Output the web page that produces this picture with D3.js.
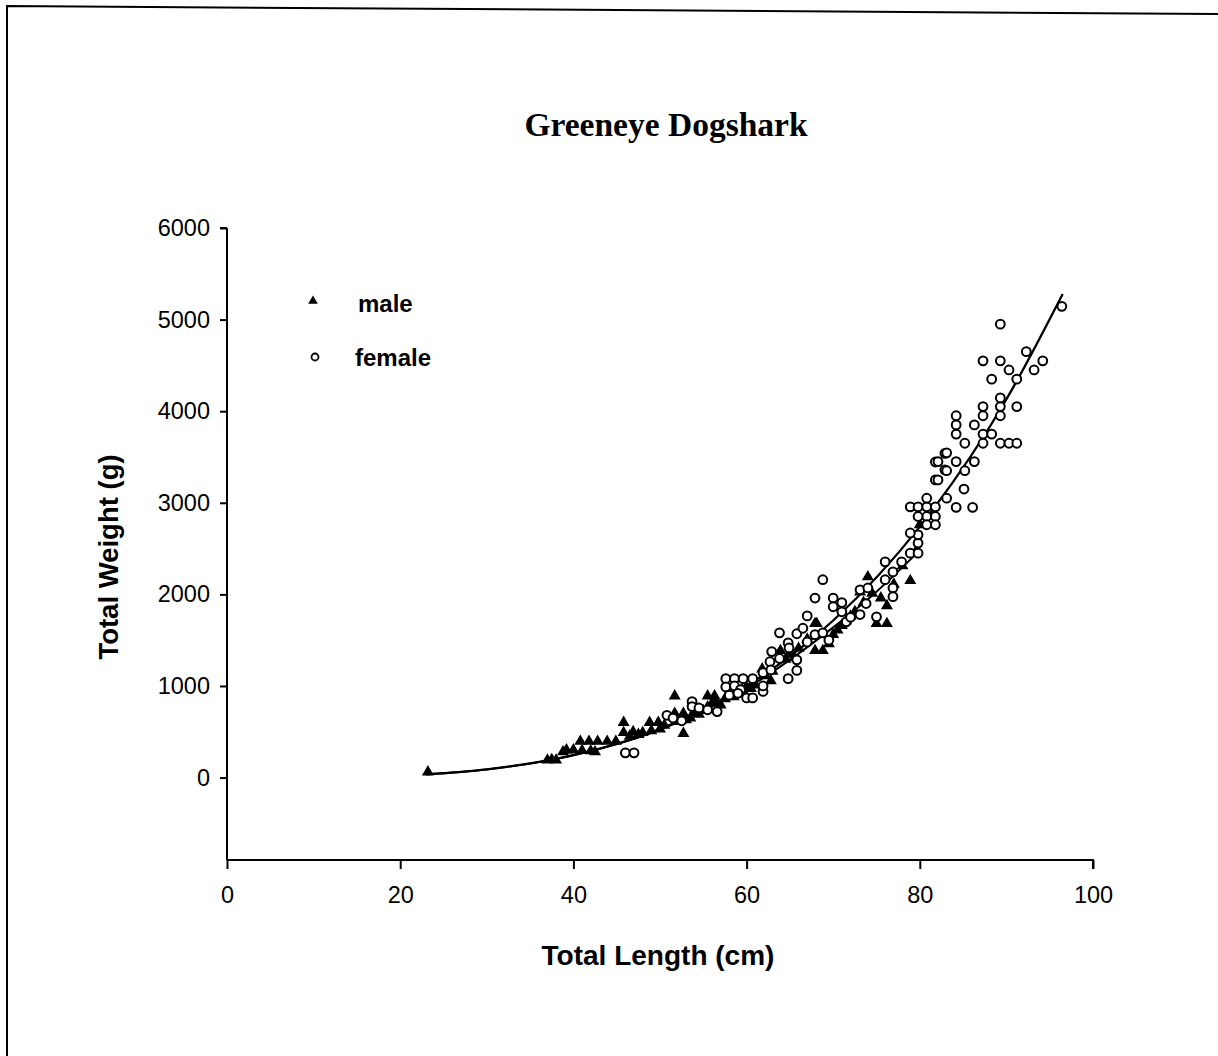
<!DOCTYPE html>
<html>
<head>
<meta charset="utf-8">
<script src="https://cdn.jsdelivr.net/npm/d3@7"></script>
<style>
  body { margin: 0; background: #fff; }
  svg { display: block; }
</style>
</head>
<body>
<svg id="chart"></svg>
<script>
// datos: [longitud total cm, peso total g]
const maleData = [
  [23.2, 50],
  [37, 180], [37.5, 185], [38, 180],
  [38.8, 270], [39.2, 290], [40, 290], [41, 285], [42, 280], [42.5, 270],
  [40.8, 385], [41.8, 385], [42.8, 385], [43.9, 385], [44.9, 385],
  [45.8, 590], [45.8, 480], [46.9, 490], [46.5, 440], [47.5, 460],
  [48.8, 590], [49.8, 590], [48, 480], [49, 500], [50, 520], [50.5, 560],
  [51.7, 880], [51.7, 690], [52.7, 690], [52.7, 470], [52, 600], [53, 620], [53.5, 640],
  [54, 700], [54.5, 680], [55, 720], [55.5, 880], [56.3, 880], [55.5, 760], [56, 800],
  [56.5, 820], [57, 780], [57.5, 850], [58, 900], [58.5, 870], [59, 920], [59.5, 950],
  [60, 980], [60.5, 960], [61, 1000], [61.8, 1175], [62.2, 1100], [62.8, 1045], [63, 1150],
  [63.9, 1375], [64.5, 1280], [65, 1350], [65.5, 1300], [66, 1400], [67, 1500],
  [67.9, 1670], [68.1, 1670], [67.9, 1375], [68.8, 1375], [69.5, 1450], [70, 1550],
  [70.5, 1600], [71, 1650], [71.5, 1700], [72, 1750], [72.5, 1800], [73.1, 2015],
  [73.5, 1900], [74, 2180], [74.5, 2000], [75, 1670], [75.5, 1950], [76.2, 1865],
  [76.2, 1670], [77, 2100], [78, 2300], [78.9, 2140], [79.5, 2450], [80, 2750]
];

const femaleData = [
  [46, 270], [47, 270],
  [50.8, 680], [51.5, 650], [52.5, 620], [53.7, 830], [53.7, 775], [54.5, 760],
  [55.5, 740], [56.6, 720], [57.6, 1080], [58.6, 1080], [59.6, 1080], [60.7, 1080],
  [57.6, 990], [58.6, 1000], [59.3, 960], [60, 870], [60.7, 870], [58, 900], [59, 920],
  [61.9, 940], [61.9, 1000], [61.9, 1145], [62.7, 1265], [62.8, 1175], [62.9, 1375],
  [63.8, 1580], [63.8, 1300], [64.8, 1470], [64.9, 1415], [64.8, 1080], [65.8, 1285],
  [65.8, 1170], [65.8, 1570], [66.5, 1630], [67, 1480], [67, 1765], [67.9, 1560],
  [67.9, 1960], [68.8, 1580], [68.8, 2160], [69.5, 1500], [70, 1960], [70, 1865],
  [71, 1910], [71, 1810], [71.5, 1700], [72, 1750], [73.1, 2050], [73.1, 1780],
  [73.8, 1900], [74, 2070], [75, 1755], [76, 2160], [76, 2355], [76.9, 2245],
  [76.9, 2070], [76.9, 1975], [77.9, 2355], [78.9, 2450], [79.8, 2450], [79.8, 2560],
  [79.8, 2650], [78.9, 2670], [78.9, 2955], [79.8, 2955], [80.8, 2955], [81.8, 2955],
  [80.8, 3050], [80.8, 2850], [81.8, 2850], [80.8, 2760], [81.8, 2760], [79.8, 2850],
  [81.8, 3250], [81.8, 3445], [82.9, 3360], [82.9, 3540], [83.1, 3050], [84.2, 2950],
  [86.1, 2950], [85.1, 3150], [82.1, 3250], [83.1, 3350], [85.2, 3350], [82.1, 3450],
  [84.2, 3450], [86.3, 3450], [83.1, 3545], [85.2, 3650], [87.3, 3650], [89.3, 3650],
  [90.3, 3650], [91.2, 3650], [84.2, 3750], [87.3, 3750], [88.3, 3750], [84.2, 3850],
  [86.3, 3850], [84.2, 3950], [87.3, 3950], [87.3, 4050], [89.3, 3950], [89.3, 4050],
  [91.2, 4050], [89.3, 4145], [88.3, 4350], [91.2, 4350], [90.3, 4450], [93.2, 4450],
  [87.3, 4550], [89.3, 4550], [94.2, 4550], [92.3, 4650], [89.3, 4950], [96.4, 5145]
];

// curvas ajustadas
const fitAll = [[23, 35], [30, 90], [40, 245], [50, 530], [60, 1000], [70, 1715], [80, 2740], [90, 4130], [96.5, 5280]];
const fitMale = [[23, 35], [30, 89], [40, 243], [50, 522], [60, 975], [70, 1640], [75, 2030], [80, 2480]];

const xTicks = [0, 20, 40, 60, 80, 100];
const yTicks = [0, 1000, 2000, 3000, 4000, 5000, 6000];
const legendItems = ['male', 'female'];

const width = 1218, height = 1056;
const svg = d3.select('#chart').attr('width', width).attr('height', height);

// marco del escaneo
svg.append('path')
  .attr('d', 'M7,1056 L7,6 L1218,14')
  .attr('fill', 'none').attr('stroke', '#000').attr('stroke-width', 2);

const x = d3.scaleLinear().domain([0, 100]).range([227, 1093]);
const y = d3.scaleLinear().domain([-900, 6000]).range([860, 228]);

// ejes
const xAxis = svg.append('g').attr('transform', 'translate(0,860)')
  .call(d3.axisBottom(x).tickValues(xTicks).tickFormat(d3.format('d')).tickSize(9).tickPadding(17));
const yAxis = svg.append('g').attr('transform', 'translate(227,0)')
  .call(d3.axisLeft(y).tickValues(yTicks).tickFormat(d3.format('d')).tickSize(7).tickPadding(10));

[xAxis, yAxis].forEach(g => {
  g.select('.domain').attr('stroke', '#000').attr('stroke-width', 2);
  g.selectAll('line').attr('stroke', '#000').attr('stroke-width', 2);
  g.selectAll('text').attr('font-family', 'Arial, "Liberation Sans", sans-serif')
    .attr('font-size', 23.5).attr('fill', '#000');
});
yAxis.select('.domain').attr('d', 'M0,228H-7M0,228V860');
xAxis.select('.domain').attr('d', 'M227,0H1093V9');

// curvas
const line = d3.line().x(d => x(d[0])).y(d => y(d[1])).curve(d3.curveMonotoneX);
svg.append('path').datum(fitMale).attr('d', line)
  .attr('fill', 'none').attr('stroke', '#000').attr('stroke-width', 2);
svg.append('path').datum(fitAll).attr('d', line)
  .attr('fill', 'none').attr('stroke', '#000').attr('stroke-width', 2.3);

// puntos
const tri = d3.symbol().type(d3.symbolTriangle).size(62);
svg.append('g').selectAll('path')
  .data(maleData).enter().append('path')
  .attr('d', tri)
  .attr('transform', d => `translate(${x(d[0])},${y(d[1]) - 1})`)
  .attr('fill', '#000');

svg.append('g').selectAll('circle')
  .data(femaleData).enter().append('circle')
  .attr('cx', d => x(d[0])).attr('cy', d => y(d[1]))
  .attr('r', 4.4)
  .attr('fill', '#fff').attr('stroke', '#000').attr('stroke-width', 2);

// leyenda
const legend = svg.append('g');
legend.append('path').attr('d', d3.symbol().type(d3.symbolTriangle).size(40))
  .attr('transform', 'translate(313,301)').attr('fill', '#000');
legend.append('circle').attr('cx', 315).attr('cy', 357).attr('r', 3.5)
  .attr('fill', '#fff').attr('stroke', '#000').attr('stroke-width', 1.8);
legend.selectAll('text').data(legendItems).enter().append('text')
  .attr('x', (d, i) => i === 0 ? 358 : 355)
  .attr('y', (d, i) => i === 0 ? 312 : 366)
  .attr('font-family', 'Arial, "Liberation Sans", sans-serif')
  .attr('font-weight', 'bold').attr('font-size', 24)
  .text(d => d);

// titulos
svg.append('text').attr('x', 666).attr('y', 136).attr('text-anchor', 'middle')
  .attr('font-family', '"Times New Roman", "Liberation Serif", serif')
  .attr('font-weight', 'bold').attr('font-size', 33.5)
  .text('Greeneye Dogshark');

svg.append('text').attr('x', 658).attr('y', 965).attr('text-anchor', 'middle')
  .attr('font-family', 'Arial, "Liberation Sans", sans-serif')
  .attr('font-weight', 'bold').attr('font-size', 28)
  .text('Total Length (cm)');

svg.append('text').attr('transform', 'translate(118,557) rotate(-90)').attr('text-anchor', 'middle')
  .attr('font-family', 'Arial, "Liberation Sans", sans-serif')
  .attr('font-weight', 'bold').attr('font-size', 27.5)
  .text('Total Weight (g)');
</script>
</body>
</html>
